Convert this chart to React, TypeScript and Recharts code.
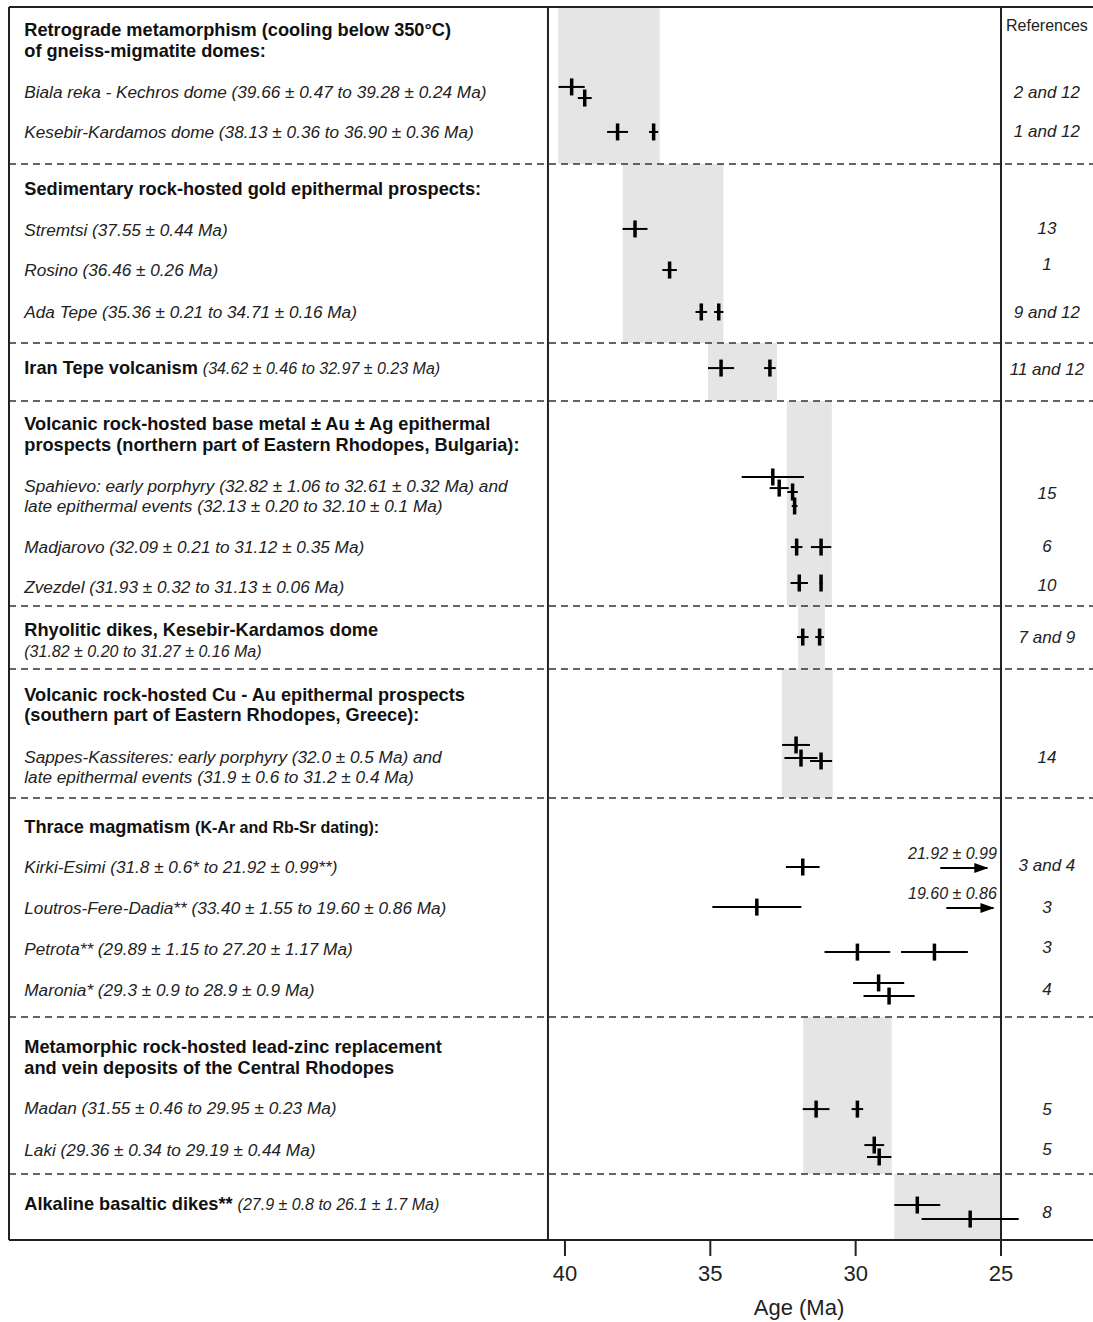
import { ScatterChart, Scatter, XAxis, YAxis, ErrorBar, ReferenceArea, ReferenceLine } from "recharts"

const FONT = '"Liberation Sans", Arial, Helvetica, sans-serif'

// rows: 0 = top of the frame, 60 = age axis (one row ~ one line of text)
const xTicks = [40, 35, 30, 25]

// plotted ages (Ma) with their ± error, as drawn in the figure
const dateAge = [
  39.77, 39.32, 38.19, 36.95, 37.59, 36.4, 35.31, 34.71, 34.63, 32.95,
  32.85, 32.63, 32.17, 32.1, 32.03, 31.19, 31.94, 31.19, 31.82, 31.24,
  32.05, 31.88, 31.19, 31.82, 33.4, 29.94, 27.29, 29.21, 28.85, 31.36,
  29.94, 29.36, 29.19, 27.88, 26.06,
]
const dateErr = [
  0.45, 0.24, 0.36, 0.16, 0.43, 0.25, 0.2, 0.16, 0.45, 0.2,
  1.07, 0.33, 0.18, 0.1, 0.2, 0.35, 0.3, 0.05, 0.2, 0.15,
  0.48, 0.57, 0.38, 0.58, 1.53, 1.13, 1.15, 0.88, 0.88, 0.46,
  0.2, 0.34, 0.42, 0.79, 1.67,
]
const dateRow = [
  3.89, 4.43, 6.08, 6.08, 10.8, 12.8, 14.84, 14.84, 17.57, 17.57,
  22.87, 23.41, 23.6, 24.28, 26.28, 26.28, 28.03, 28.03, 30.66, 30.66,
  35.91, 36.55, 36.69, 41.85, 43.8, 45.99, 45.99, 47.49, 48.13, 53.63,
  53.63, 55.38, 55.96, 58.3, 58.98,
]

// off-scale young ages shown with arrows
const arrowTip = [25.47, 25.26]
const arrowLen = [1.62, 1.62]
const arrowRow = [41.9, 43.85]
const arrowNote = ["21.92 ± 0.99", "19.60 ± 0.86"]
const arrowNoteRow = [41.17, 43.16]

// shaded age ranges per group: [older, younger, top row, bottom row]
const bands = [
  [40.23, 36.74, 0, 7.64],
  [38.01, 34.55, 7.64, 16.35],
  [35.08, 32.71, 16.35, 19.17],
  [32.37, 30.82, 19.17, 29.15],
  [31.98, 31.06, 29.15, 32.21],
  [32.54, 30.79, 32.21, 38.49],
  [31.8, 28.76, 49.15, 56.79],
  [28.67, 25.0, 56.79, 60],
]
const separators = [7.64, 16.35, 19.17, 29.15, 32.21, 38.49, 49.15, 56.79]

// h = bold heading, hs = smaller bold, i = italic, r = italic range after a heading
const panelLines: { row: number; segs: [string, string][] }[] = [
  { row: 1.12, segs: [["Retrograde metamorphism (cooling below 350°C)", "h"]] },
  { row: 2.14, segs: [["of gneiss-migmatite domes:", "h"]] },
  { row: 4.14, segs: [["Biala reka - Kechros dome (39.66 ± 0.47 to 39.28 ± 0.24 Ma)", "i"]] },
  { row: 6.08, segs: [["Kesebir-Kardamos dome (38.13 ± 0.36 to 36.90 ± 0.36 Ma)", "i"]] },
  { row: 8.86, segs: [["Sedimentary rock-hosted gold epithermal prospects:", "h"]] },
  { row: 10.85, segs: [["Stremtsi (37.55 ± 0.44 Ma)", "i"]] },
  { row: 12.8, segs: [["Rosino (36.46 ± 0.26 Ma)", "i"]] },
  { row: 14.84, segs: [["Ada Tepe (35.36 ± 0.21 to 34.71 ± 0.16 Ma)", "i"]] },
  { row: 17.57, segs: [["Iran Tepe volcanism ", "h"], ["(34.62 ± 0.46 to 32.97 ± 0.23 Ma)", "r"]] },
  { row: 20.29, segs: [["Volcanic rock-hosted base metal ± Au ± Ag epithermal", "h"]] },
  { row: 21.31, segs: [["prospects (northern part of Eastern Rhodopes, Bulgaria):", "h"]] },
  { row: 23.31, segs: [["Spahievo: early porphyry (32.82 ± 1.06 to 32.61 ± 0.32 Ma) and", "i"]] },
  { row: 24.28, segs: [["late epithermal events (32.13 ± 0.20 to 32.10 ± 0.1 Ma)", "i"]] },
  { row: 26.28, segs: [["Madjarovo (32.09 ± 0.21 to 31.12 ± 0.35 Ma)", "i"]] },
  { row: 28.22, segs: [["Zvezdel (31.93 ± 0.32 to 31.13 ± 0.06 Ma)", "i"]] },
  { row: 30.32, segs: [["Rhyolitic dikes, Kesebir-Kardamos dome", "h"]] },
  { row: 31.34, segs: [["(31.82 ± 0.20 to 31.27 ± 0.16 Ma)", "r"]] },
  { row: 33.48, segs: [["Volcanic rock-hosted Cu - Au epithermal prospects", "h"]] },
  { row: 34.45, segs: [["(southern part of Eastern Rhodopes, Greece):", "h"]] },
  { row: 36.5, segs: [["Sappes-Kassiteres: early porphyry (32.0 ± 0.5 Ma) and", "i"]] },
  { row: 37.47, segs: [["late epithermal events (31.9 ± 0.6 to 31.2 ± 0.4 Ma)", "i"]] },
  { row: 39.9, segs: [["Thrace magmatism ", "h"], ["(K-Ar and Rb-Sr dating):", "hs"]] },
  { row: 41.85, segs: [["Kirki-Esimi (31.8 ± 0.6* to 21.92 ± 0.99**)", "i"]] },
  { row: 43.84, segs: [["Loutros-Fere-Dadia** (33.40 ± 1.55 to 19.60 ± 0.86 Ma)", "i"]] },
  { row: 45.84, segs: [["Petrota** (29.89 ± 1.15 to 27.20 ± 1.17 Ma)", "i"]] },
  { row: 47.83, segs: [["Maronia* (29.3 ± 0.9 to 28.9 ± 0.9 Ma)", "i"]] },
  { row: 50.61, segs: [["Metamorphic rock-hosted lead-zinc replacement", "h"]] },
  { row: 51.63, segs: [["and vein deposits of the Central Rhodopes", "h"]] },
  { row: 53.58, segs: [["Madan (31.55 ± 0.46 to 29.95 ± 0.23 Ma)", "i"]] },
  { row: 55.62, segs: [["Laki (29.36 ± 0.34 to 29.19 ± 0.44 Ma)", "i"]] },
  { row: 58.25, segs: [["Alkaline basaltic dikes** ", "h"], ["(27.9 ± 0.8 to 26.1 ± 1.7 Ma)", "r"]] },
]

const refLabels = [
  "References", "2 and 12", "1 and 12", "13", "1", "9 and 12", "11 and 12", "15", "6", "10",
  "7 and 9", "14", "3 and 4", "3", "3", "4", "5", "5", "8",
]
const refRows = [
  0.88, 4.14, 6.08, 10.8, 12.55, 14.89, 17.62, 23.65, 26.23, 28.13,
  30.7, 36.5, 41.8, 43.84, 45.79, 47.83, 53.67, 55.62, 58.64,
]

const TEXT_AGE = 58.6
const REF_AGE = 23.42
const NOTE_AGE = 25.14

const SEG_STYLE: Record<string, any> = {
  h: { fontWeight: 700, fontSize: 18.2, fill: "#111" },
  hs: { fontWeight: 700, fontSize: 16, fill: "#111" },
  i: { fontStyle: "italic", fontSize: 17.2, fill: "#222" },
  r: { fontStyle: "italic", fontSize: 16, fill: "#222" },
}

const dates = dateAge.map((age, i) => ({ age, err: dateErr[i], row: dateRow[i] }))
const arrows = arrowTip.map((age, i) => ({ age, tail: [0, arrowLen[i]], row: arrowRow[i] }))
const notes = arrowNote.map((text, i) => ({ age: NOTE_AGE, row: arrowNoteRow[i], text }))
const panel = panelLines.map((l) => ({ ...l, age: TEXT_AGE }))
const refs = refLabels.map((text, i) => ({ age: REF_AGE, row: refRows[i], text }))

function PanelText(props: any) {
  const { cx, cy, payload } = props
  return (
    <text x={cx} y={cy} dominantBaseline="central" fontFamily={FONT} fontSize={17} style={{ whiteSpace: "pre" }}>
      {payload.segs.map(([t, s]: [string, string], i: number) => (
        <tspan key={i} {...SEG_STYLE[s]}>
          {t}
        </tspan>
      ))}
    </text>
  )
}

function RefText(props: any) {
  const { cx, cy, payload } = props
  const header = payload.text === "References"
  return (
    <text
      x={cx}
      y={cy}
      textAnchor="middle"
      dominantBaseline="central"
      fontFamily={FONT}
      fontSize={header ? 16 : 17}
      fontStyle={header ? "normal" : "italic"}
      fill="#222"
    >
      {payload.text}
    </text>
  )
}

function NoteText(props: any) {
  const { cx, cy, payload } = props
  return (
    <text x={cx} y={cy} textAnchor="end" dominantBaseline="central" fontFamily={FONT} fontSize={16} fontStyle="italic" fill="#222">
      {payload.text}
    </text>
  )
}

function AgeTick(props: any) {
  const { cx, cy } = props
  return <rect x={cx - 1.75} y={cy - 8.5} width={3.5} height={17} fill="#000" />
}

function ArrowHead(props: any) {
  const { cx, cy } = props
  return <polygon points={`${cx + 1},${cy} ${cx - 13},${cy - 5} ${cx - 13},${cy + 5}`} fill="#000" />
}

export default function App() {
  return (
    <div style={{ position: "absolute", left: 0, top: 0, width: 1093, height: 1322, background: "#fff" }}>
      <ScatterChart width={1093} height={1322} margin={{ top: 7, right: 0, bottom: 0, left: 9 }}>
        <XAxis
          type="number"
          dataKey="age"
          domain={[21.835, 59.126]}
          reversed
          allowDataOverflow
          ticks={xTicks}
          height={82}
          tickSize={16}
          tickMargin={9}
          stroke="#222"
          tick={{ fontSize: 22, fill: "#222", fontFamily: FONT }}
          axisLine={{ stroke: "#222", strokeWidth: 2 }}
          tickLine={{ stroke: "#222", strokeWidth: 2 }}
          label={{ value: "Age (Ma)", position: "insideBottom", offset: 7, dx: 248, fontSize: 22, fill: "#222", fontFamily: FONT }}
        />
        <YAxis type="number" dataKey="row" domain={[0, 60]} reversed hide allowDataOverflow />

        {bands.map(([x1, x2, y1, y2], i) => (
          <ReferenceArea key={`b${i}`} x1={x1} x2={x2} y1={y1} y2={y2} fill="#e4e5e4" fillOpacity={1} stroke="none" ifOverflow="visible" />
        ))}
        {separators.map((y, i) => (
          <ReferenceLine key={`s${i}`} y={y} stroke="#333" strokeWidth={1.5} strokeDasharray="7 5" ifOverflow="visible" />
        ))}
        <ReferenceLine y={0} stroke="#222" strokeWidth={2} ifOverflow="visible" />
        <ReferenceLine x={59.126} stroke="#222" strokeWidth={2} ifOverflow="visible" />
        <ReferenceLine x={40.585} stroke="#222" strokeWidth={2} ifOverflow="visible" />
        <ReferenceLine x={25} stroke="#222" strokeWidth={2} ifOverflow="visible" />

        <Scatter data={panel} shape={PanelText} isAnimationActive={false} />
        <Scatter data={refs} shape={RefText} isAnimationActive={false} />
        <Scatter data={notes} shape={NoteText} isAnimationActive={false} />
        <Scatter data={dates} shape={AgeTick} isAnimationActive={false}>
          <ErrorBar dataKey="err" direction="x" width={0} stroke="#000" strokeWidth={2} isAnimationActive={false} />
        </Scatter>
        <Scatter data={arrows} shape={ArrowHead} isAnimationActive={false}>
          <ErrorBar dataKey="tail" direction="x" width={0} stroke="#000" strokeWidth={2} isAnimationActive={false} />
        </Scatter>
      </ScatterChart>
    </div>
  )
}
